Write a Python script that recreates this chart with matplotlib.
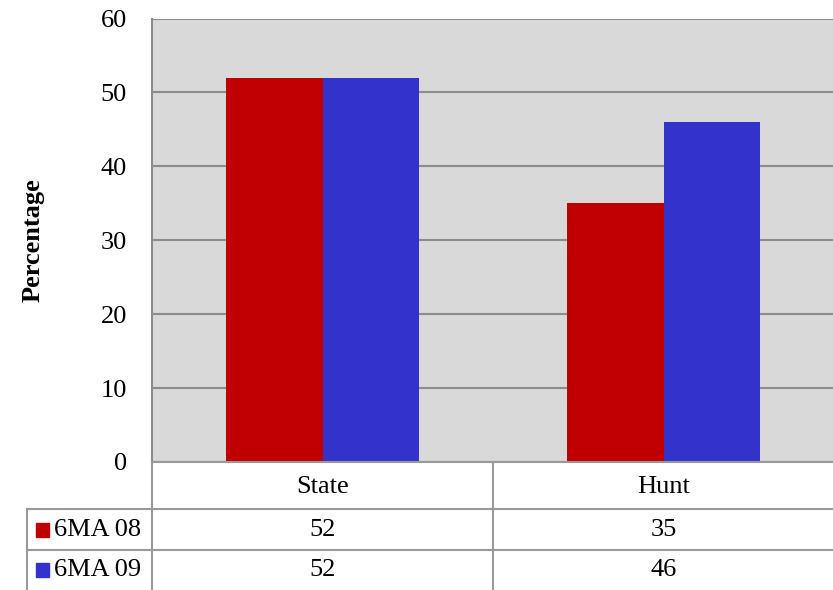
import matplotlib.pyplot as plt
from matplotlib.patches import Rectangle
from matplotlib.transforms import blended_transform_factory

# Data
categories = ['State', 'Hunt']
series_names = ['6MA 08', '6MA 09']
values_08 = [52, 35]
values_09 = [52, 46]
colors = ['#C00000', '#3333CC']

plt.rcParams['font.family'] = ['Liberation Serif', 'DejaVu Serif']
FS = 19

W, H = 833, 590
fig = plt.figure(figsize=(W / 100, H / 100), dpi=100)

# plot area in pixel terms of the reference
left_px, right_px, top_px, bottom_px = 152, 834, 18.5, 462
ax = fig.add_axes([left_px / W, 1 - bottom_px / H,
                   (right_px - left_px) / W, (bottom_px - top_px) / H])
ax.set_facecolor('#D9D9D9')

x = range(len(categories))
width = 0.283
ax.bar([i - width / 2 for i in x], values_08, width, color=colors[0], zorder=3)
ax.bar([i + width / 2 for i in x], values_09, width, color=colors[1], zorder=3)

ax.set_xlim(-0.5, len(categories) - 0.5)
ax.set_ylim(0, 60)
ax.set_yticks(range(0, 61, 10))
ax.set_xticks([])
ax.grid(axis='y', color='#8C8C8C', linewidth=1.5, zorder=1)
ax.tick_params(axis='y', length=0, pad=18, labelsize=FS)
for s in ['top', 'right', 'bottom']:
    ax.spines[s].set_visible(False)
ax.spines['left'].set_color('#8C8C8C')
ax.spines['left'].set_linewidth(1.5)

fig.text(33 / W, 1 - 240 / H, 'Percentage', rotation=90, ha='center', va='center',
         fontsize=FS, fontweight='bold')

# data table under the plot
line_kw = dict(color='#999999', linewidth=1.5, transform=fig.transFigure, clip_on=False)
tbl_left = 27 / W
y_head_top = 1 - 462 / H
y_head_bot = 1 - 509 / H
y_row1_bot = 1 - 550 / H
y_bottom = 0.0
xl, xr = left_px / W, right_px / W
fig.add_artist(plt.Line2D([xl, xr], [y_head_top, y_head_top], **line_kw))
fig.add_artist(plt.Line2D([tbl_left, xr], [y_head_bot, y_head_bot], **line_kw))
fig.add_artist(plt.Line2D([tbl_left, xr], [y_row1_bot, y_row1_bot], **line_kw))
fig.add_artist(plt.Line2D([xl, xl], [y_head_top, y_bottom], **line_kw))
fig.add_artist(plt.Line2D([tbl_left, tbl_left], [y_head_bot, y_bottom], **line_kw))
mid = (left_px + (right_px - left_px) / 2) / W
fig.add_artist(plt.Line2D([mid, mid], [y_head_top, y_bottom], **line_kw))

trans = blended_transform_factory(ax.transData, fig.transFigure)
row_centers = [1 - 487 / H, 1 - 530 / H, 1 - 570 / H]
for i, cat in enumerate(categories):
    fig.text(i, row_centers[0], cat, transform=trans, ha='center', va='center', fontsize=FS)
    fig.text(i, row_centers[1], str(values_08[i]), transform=trans, ha='center', va='center', fontsize=FS)
    fig.text(i, row_centers[2], str(values_09[i]), transform=trans, ha='center', va='center', fontsize=FS)

for r, (name, c) in enumerate(zip(series_names, colors)):
    yc = row_centers[r + 1]
    fig.add_artist(Rectangle((36 / W, yc - 7 / H), 13 / W, 14 / H, color=c,
                             transform=fig.transFigure))
    fig.text(54 / W, yc, name, ha='left', va='center', fontsize=FS)

fig.savefig('out.png', dpi=100)
